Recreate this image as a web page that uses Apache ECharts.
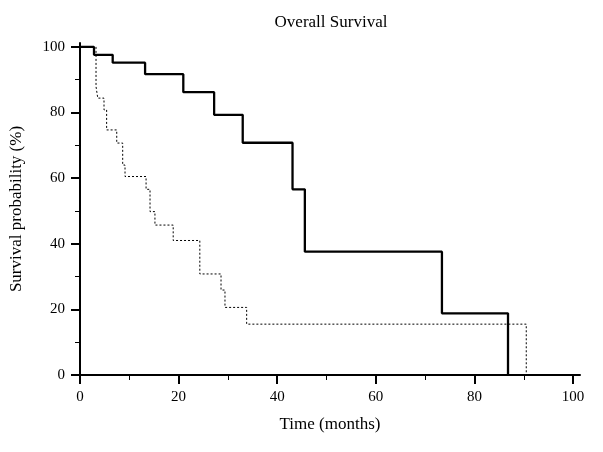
<!DOCTYPE html>
<html><head><meta charset="utf-8">
<script src="https://cdn.jsdelivr.net/npm/echarts@6/dist/echarts.min.js"></script>
<style>html,body{margin:0;padding:0;background:#fff}#c{width:603px;height:452px}</style>
</head><body><div id="c"></div>
<script>
const titleText = "Overall Survival";
const xName = "Time (months)";
const yName = "Survival probability (%)";
const xMajorTicks = [0, 20, 40, 60, 80, 100];
const xMinorTicks = [10, 30, 50, 70, 90];
const yMajorTicks = [0, 20, 40, 60, 80, 100];
const yMinorTicks = [10, 30, 50, 70, 90];
// Group A (solid)
const solidTimes = [0, 2.84, 6.63, 13.2, 20.95, 27.2, 33.0, 43.1, 45.6, 73.4, 86.8];
const solidSurv  = [100, 97.6, 95.2, 91.7, 86.2, 79.3, 70.8, 56.6, 37.6, 18.8, 0];
// Group B (dotted)
const dotTimes = [0, 3.25, 3.6, 4.87, 5.4, 7.45, 8.66, 9.13, 13.4, 14.2, 15.2, 18.9, 24.3, 28.6, 29.4, 33.8, 90.5];
const dotSurv  = [100, 87.9, 84.4, 80.8, 74.7, 70.7, 64.0, 60.5, 56.6, 49.8, 45.7, 41.0, 30.8, 25.9, 20.6, 15.5, 0];

const font = "'Liberation Serif', 'DejaVu Serif', serif";
const pair = (a, b) => a.map((t, i) => [t, b[i]]);
const chart = echarts.init(document.getElementById('c'), null, {renderer: 'canvas'});
const axisLine = {show: true, lineStyle: {color: '#000', width: 2}};
chart.setOption({
  animation: false,
  backgroundColor: '#fff',
  title: {text: titleText, left: 326, top: 9, textAlign: 'center',
    textStyle: {fontFamily: font, fontSize: 17, fontWeight: 'normal', color: '#000'}},
  grid: {left: 80, top: 43, right: 23, bottom: 77},
  xAxis: [{
    type: 'value', min: 0, max: 101.4, position: 'bottom',
    name: xName, nameLocation: 'middle', nameGap: 41,
    nameTextStyle: {fontFamily: font, fontSize: 17, color: '#000'},
    axisLine: axisLine,
    axisTick: {show: true, length: 9, lineStyle: {color: '#000', width: 2}, customValues: xMajorTicks},
    axisLabel: {show: true, margin: 15, fontFamily: font, fontSize: 15, color: '#000', customValues: xMajorTicks},
    splitLine: {show: false}
  }, {
    type: 'value', min: 0, max: 101.4, position: 'bottom', offset: 0,
    axisLine: {show: false},
    axisTick: {show: true, length: 5, lineStyle: {color: '#000', width: 1}, customValues: xMinorTicks},
    axisLabel: {show: false},
    splitLine: {show: false}
  }],
  yAxis: [{
    type: 'value', min: 0, max: 101.2, position: 'left',
    name: yName, nameLocation: 'middle', nameGap: 55, nameRotate: 90,
    nameTextStyle: {fontFamily: font, fontSize: 17, color: '#000'},
    axisLine: axisLine,
    axisTick: {show: true, length: 9, lineStyle: {color: '#000', width: 2}, customValues: yMajorTicks},
    axisLabel: {show: true, margin: 15, fontFamily: font, fontSize: 15, color: '#000', customValues: yMajorTicks},
    splitLine: {show: false}
  }, {
    type: 'value', min: 0, max: 101.2, position: 'left', offset: 0,
    axisLine: {show: false},
    axisTick: {show: true, length: 5, lineStyle: {color: '#000', width: 1}, customValues: yMinorTicks},
    axisLabel: {show: false},
    splitLine: {show: false}
  }],
  series: [{
    type: 'line', step: 'end', symbol: 'none', xAxisIndex: 0, yAxisIndex: 0,
    data: pair(solidTimes, solidSurv),
    lineStyle: {color: '#000', width: 2.3}
  }, {
    type: 'line', step: 'end', symbol: 'none', xAxisIndex: 0, yAxisIndex: 0,
    data: pair(dotTimes, dotSurv),
    lineStyle: {color: '#000', width: 1, type: [2, 2]}
  }]
});
</script></body></html>
